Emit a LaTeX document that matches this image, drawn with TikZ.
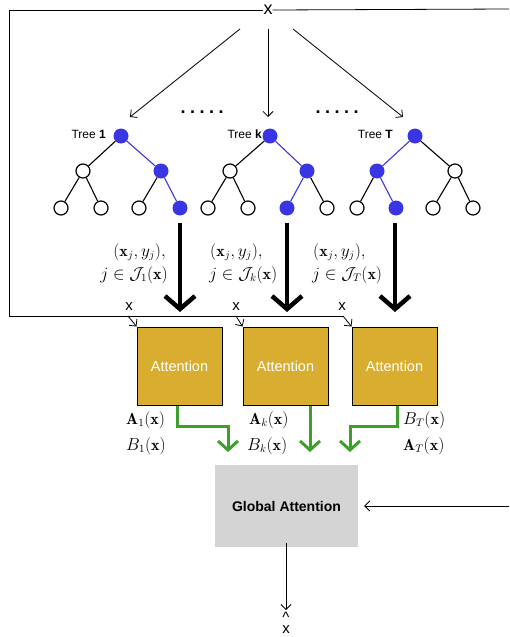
\documentclass[tikz,border=0pt]{standalone}
\usepackage{fontspec}
\usepackage{amsmath}
\usetikzlibrary{arrows.meta}
\newfontfamily\uifont{Liberation Sans}
\definecolor{treeblue}{HTML}{3A35E3}
\definecolor{attgold}{HTML}{D9AE30}
\definecolor{flowgreen}{HTML}{3E9F2A}
\definecolor{globgray}{HTML}{D4D4D4}
\tikzset{
  wnode/.style={circle,draw=black,fill=white,line width=1.2pt,minimum size=14pt,inner sep=0pt},
  bnode/.style={circle,fill=treeblue,minimum size=15pt,inner sep=0pt},
  tedge/.style={line width=1.1pt,black},
  bedge/.style={line width=1.1pt,treeblue},
  thinarrow/.style={line width=0.8pt,-{Straight Barb[length=5pt,width=10pt]}},
  bigarrow/.style={line width=4.5pt,-{Straight Barb[length=13pt,width=30pt]}},
  greenarrow/.style={line width=3pt,flowgreen,-{Straight Barb[length=9pt,width=20pt]}},
  attbox/.style={draw=black,line width=1pt,fill=attgold,minimum width=85pt,minimum height=78pt,
    inner sep=0pt,text=white,font=\uifont\fontsize{14.5}{16}\selectfont},
  globbox/.style={fill=globgray,minimum width=143pt,minimum height=82pt,inner sep=0pt,
    font=\uifont\fontsize{14}{16}\selectfont\bfseries},
  treelabel/.style={font=\uifont\fontsize{12}{14}\selectfont,anchor=east,inner sep=0pt},
  xlabel/.style={font=\uifont\fontsize{15}{16}\selectfont,inner sep=0pt},
  mathlabel/.style={font=\fontsize{16}{19}\selectfont,inner sep=0pt},
  dotsrow/.style={font=\uifont\fontsize{18}{18}\selectfont\bfseries\addfontfeature{LetterSpace=25},inner sep=0pt}
}
\begin{document}
\begin{tikzpicture}[x=1pt,y=-1pt]
\useasboundingbox (0,0) rectangle (509,637);

% input x and its fan-out to the trees
\node[xlabel,font=\uifont\fontsize{18}{18}\selectfont] (xin) at (268,10) {x};
\coordinate (fanL) at (240,29);
\coordinate (fanM) at (268,29);
\coordinate (fanR) at (293,29);
\coordinate (tipL) at (130,117);
\coordinate (tipM) at (268,117);
\coordinate (tipR) at (403,117);
\draw[thinarrow] (fanL) -- (tipL);
\draw[thinarrow] (fanM) -- (tipM);
\draw[thinarrow] (fanR) -- (tipR);
\node[dotsrow] (dots1) at (202,112) {.....};
\node[dotsrow] (dots2) at (337,112) {.....};

% tree 1
\node[treelabel] (lab1) at (106,134) {Tree \textbf{1}};
\node[bnode] (t1r) at (121,136) {};
\node[wnode] (t1a) at (83,171) {};
\node[bnode] (t1b) at (161,171) {};
\node[wnode] (t1l1) at (61,208) {};
\node[wnode] (t1l2) at (101,208) {};
\node[wnode] (t1l3) at (139,208) {};
\node[bnode] (t1l4) at (180,208) {};
\draw[tedge] (t1r) -- (t1a);
\draw[bedge] (t1r) -- (t1b);
\draw[tedge] (t1a) -- (t1l1);
\draw[tedge] (t1a) -- (t1l2);
\draw[tedge] (t1b) -- (t1l3);
\draw[bedge] (t1b) -- (t1l4);

% tree k
\node[treelabel] (labk) at (262,134) {Tree \textbf{k}};
\node[bnode] (tkr) at (270,136) {};
\node[wnode] (tka) at (230,171) {};
\node[bnode] (tkb) at (307,171) {};
\node[wnode] (tkl1) at (208,208) {};
\node[wnode] (tkl2) at (248,208) {};
\node[bnode] (tkl3) at (287,208) {};
\node[wnode] (tkl4) at (327,208) {};
\draw[tedge] (tkr) -- (tka);
\draw[bedge] (tkr) -- (tkb);
\draw[tedge] (tka) -- (tkl1);
\draw[tedge] (tka) -- (tkl2);
\draw[bedge] (tkb) -- (tkl3);
\draw[tedge] (tkb) -- (tkl4);

% tree T
\node[treelabel] (labT) at (393,134) {Tree \textbf{T}};
\node[bnode] (tTr) at (415,136) {};
\node[bnode] (tTa) at (377,171) {};
\node[wnode] (tTb) at (455,171) {};
\node[wnode] (tTl1) at (357,208) {};
\node[bnode] (tTl2) at (396,208) {};
\node[wnode] (tTl3) at (433,208) {};
\node[wnode] (tTl4) at (473,208) {};
\draw[bedge] (tTr) -- (tTa);
\draw[tedge] (tTr) -- (tTb);
\draw[tedge] (tTa) -- (tTl1);
\draw[bedge] (tTa) -- (tTl2);
\draw[tedge] (tTb) -- (tTl3);
\draw[tedge] (tTb) -- (tTl4);

% attention blocks
\node[attbox] (att1) at (179.5,366) {Attention};
\node[attbox] (att2) at (285.5,366) {Attention};
\node[attbox] (att3) at (394.5,366) {Attention};

% leaf samples passed to each attention block
\draw[bigarrow] (180,223) -- (180,312);
\draw[bigarrow] (287,223) -- (287,312);
\draw[bigarrow] (395,223) -- (395,312);
\node[mathlabel,anchor=east] (s1a) at (166,252) {$(\mathbf{x}_j,y_j),$};
\node[mathlabel,anchor=east] (s1b) at (168,275) {$j\in\mathcal{J}_1(\mathbf{x})$};
\node[mathlabel,anchor=west] (ska) at (210,252) {$(\mathbf{x}_j,y_j),$};
\node[mathlabel,anchor=west] (skb) at (209,275) {$j\in\mathcal{J}_k(\mathbf{x})$};
\node[mathlabel,anchor=west] (sTa) at (313,252) {$(\mathbf{x}_j,y_j),$};
\node[mathlabel,anchor=west] (sTb) at (312,275) {$j\in\mathcal{J}_T(\mathbf{x})$};

% x routed along the left side to every attention block
\coordinate (bus1) at (128,316);
\coordinate (bus2) at (236,316);
\coordinate (bus3) at (343,316);
\draw[line width=0.8pt] (xin.west) -- (9,10) -- (9,316) -- (bus3);
\draw[line width=0.8pt] (xin.east) -- (509,9);
\draw[thinarrow] (bus1) -- (att1.north west);
\draw[thinarrow] (bus2) -- (att2.north west);
\draw[thinarrow] (bus3) -- (att3.north west);
\node[xlabel] (xb1) at (129,307) {x};
\node[xlabel] (xb2) at (236,307) {x};
\node[xlabel] (xb3) at (342,307) {x};

% outputs of the attention blocks
\node[mathlabel,anchor=west] (a1) at (126,420) {$\mathbf{A}_1(\mathbf{x})$};
\node[mathlabel,anchor=west] (b1) at (126,446) {$B_1(\mathbf{x})$};
\node[mathlabel,anchor=west] (ak) at (249,420) {$\mathbf{A}_k(\mathbf{x})$};
\node[mathlabel,anchor=west] (bk) at (247,446) {$B_k(\mathbf{x})$};
\node[mathlabel,anchor=west] (bT) at (403,420) {$B_T(\mathbf{x})$};
\node[mathlabel,anchor=west] (aT) at (403,446) {$\mathbf{A}_T(\mathbf{x})$};

% global attention
\node[globbox] (glob) at (286.5,506) {Global Attention};
\draw[greenarrow] ([xshift=-2.5pt]att1.south) -- (177,426) -- (228,426) -- (228,452);
\draw[greenarrow] ([xshift=24.5pt]att2.south) -- (310,452);
\draw[greenarrow] ([xshift=2.5pt]att3.south) -- (397,426) -- (350,426) -- (350,452);
\coordinate (rin) at (509,506);
\draw[thinarrow] (rin) -- ([xshift=6pt]glob.east);
\coordinate (outtip) at (286,610);
\draw[thinarrow] ([yshift=4pt]glob.south -| outtip) -- (outtip);
% estimate x-hat: caret set above the letter
\node[xlabel,anchor=north,align=center,font=\uifont\fontsize{15}{10}\selectfont] (xhat) at (286,612)
  {\textasciicircum\\[1pt]x};
\end{tikzpicture}
\end{document}
